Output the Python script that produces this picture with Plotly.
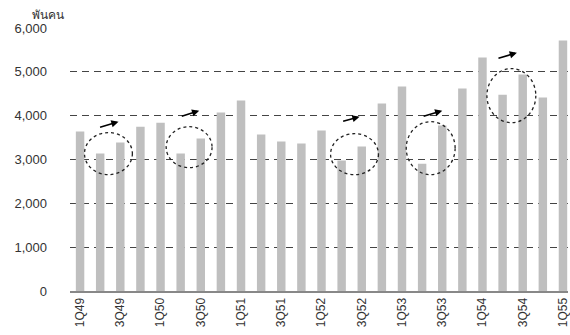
import plotly.graph_objects as go

quarters = ["1Q49", "2Q49", "3Q49", "4Q49", "1Q50", "2Q50", "3Q50", "4Q50",
            "1Q51", "2Q51", "3Q51", "4Q51", "1Q52", "2Q52", "3Q52", "4Q52",
            "1Q53", "2Q53", "3Q53", "4Q53", "1Q54", "2Q54", "3Q54", "4Q54", "1Q55"]
values = [3640, 3135, 3390, 3750, 3840, 3135, 3480, 4070,
          4345, 3570, 3410, 3365, 3660, 2975, 3295, 4275,
          4665, 2905, 3775, 4620, 5325, 4480, 4940, 4415, 5715]
tick_labels = quarters[::2]
y_ticks = [0, 1000, 2000, 3000, 4000, 5000, 6000]
y_title = "พันคน"

idx = list(range(len(quarters)))

fig = go.Figure()
fig.add_trace(go.Bar(x=idx, y=values, marker=dict(color="#BFBFBF", line=dict(width=0)),
                     hoverinfo="skip"))

# dotted ellipses highlighting seasonal dips (index/value space)
circles = [(0.22, 2.6, 2655, 3614), (4.28, 6.56, 2813, 3749), (12.45, 14.83, 2653, 3589),
           (16.21, 18.64, 2653, 3863), (20.22, 22.65, 3840, 5074)]
for x0, x1, y0, y1 in circles:
    fig.add_shape(type="circle", xref="x", yref="y", x0=x0, x1=x1, y0=y0, y1=y1,
                  line=dict(color="#222", width=1.3, dash="dot"), layer="above")

arrows = [(0.92, 3726, 1.91, 3862), (4.98, 3976, 5.92, 4113), (13.0, 3863, 13.89, 3976),
          (17.0, 3976, 18.0, 4113), (20.72, 5298, 21.71, 5436)]
for ax_, ay_, x_, y_ in arrows:
    fig.add_annotation(x=x_, y=y_, ax=ax_, ay=ay_, xref="x", yref="y", axref="x", ayref="y",
                       showarrow=True, arrowhead=2, arrowsize=0.9, arrowwidth=1.6,
                       arrowcolor="#000", text="")

fig.add_annotation(text=y_title, xref="paper", yref="paper", x=-0.044, y=1.0, yshift=4,
                   xanchor="center", yanchor="bottom", showarrow=False,
                   font=dict(size=12, color="#333"))

fig.update_layout(
    width=570, height=335,
    margin=dict(l=70, r=0, t=28, b=44),
    plot_bgcolor="white", paper_bgcolor="white",
    bargap=0.58, showlegend=False,
    font=dict(family="Liberation Sans, Arial, sans-serif", color="#333"),
    xaxis=dict(range=[-0.5, 24.25], tickmode="array", tickvals=idx[::2], ticktext=tick_labels,
               tickangle=-90, tickfont=dict(size=12, color="#333"), showgrid=False,
               ticklabeloverflow="allow",
               showline=True, linecolor="#888", linewidth=2, ticks="", zeroline=False),
    yaxis=dict(range=[0, 6000], tickvals=y_ticks, tickformat=",d", showgrid=True,
               gridcolor="#444", griddash="7px,5px", gridwidth=1, zeroline=False,
               showline=False, ticks="", tickfont=dict(size=13, color="#333"), ticklabelstandoff=22),
)

fig.write_html("out.html")
